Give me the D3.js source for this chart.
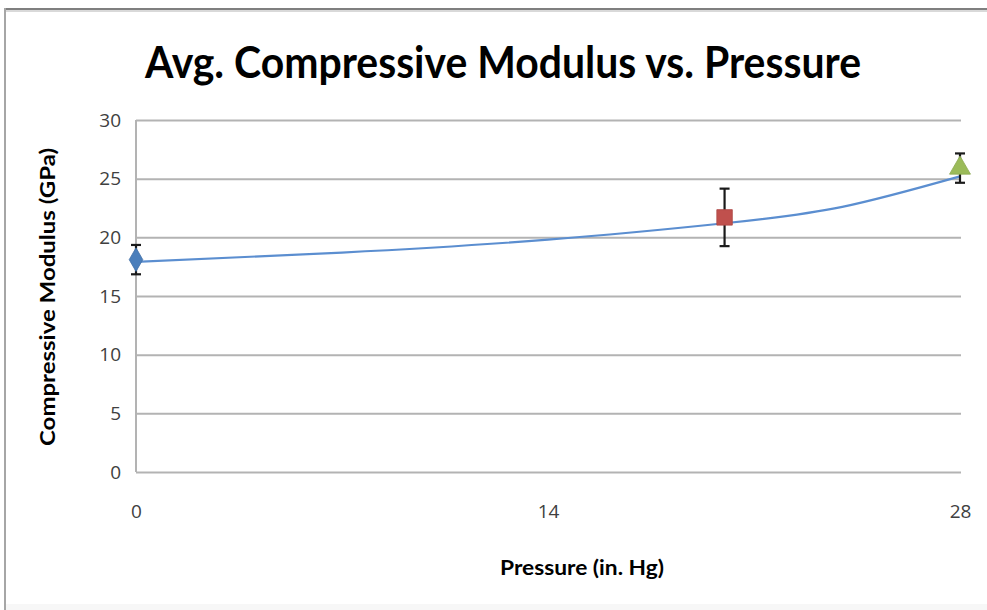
<!DOCTYPE html>
<html>
<head>
<meta charset="utf-8">
<script src="https://cdn.jsdelivr.net/npm/d3@7"></script>
<style>
  html, body { margin: 0; padding: 0; background: #ffffff; }
  svg { display: block; }
</style>
</head>
<body>
<svg id="chart" width="987" height="610"></svg>
<script>
// Measured points: pressure (in. Hg) and average modulus (GPa) with error half-widths
const pressure = [0, 20, 28];
const modulus = [18.1, 21.7, 25.9];
const errHalf = [1.25, 2.45, 1.25];
const markerShapes = ["diamond", "square", "triangle"];
const markerColors = ["#4a7ebb", "#c0504d", "#9bbb59"];

// Smoothed curve through the data (readings along the fitted line)
const trendX = [0, 7, 14, 20, 24, 28];
const trendY = [17.9, 18.7, 19.8, 21.2, 22.6, 25.2];

const xTicks = [0, 14, 28];
const yTicks = [0, 5, 10, 15, 20, 25, 30];

const svg = d3.select("#chart");

// Outer chart frame
svg.append("rect")
  .attr("x", 0).attr("y", 0).attr("width", 987).attr("height", 610)
  .attr("fill", "#ffffff");
svg.append("line").attr("x1", 4).attr("x2", 987).attr("y1", 9).attr("y2", 9)
  .attr("stroke", "#7f7f7f").attr("stroke-width", 2);
svg.append("line").attr("x1", 4).attr("x2", 987).attr("y1", 11).attr("y2", 11)
  .attr("stroke", "#d9d9d9").attr("stroke-width", 2);
svg.append("line").attr("x1", 5).attr("x2", 5).attr("y1", 8).attr("y2", 610)
  .attr("stroke", "#a6a6a6").attr("stroke-width", 2);
svg.append("rect").attr("x", 6).attr("y", 604).attr("width", 981).attr("height", 6)
  .attr("fill", "#f7f7f7");

const x = d3.scaleLinear().domain([0, 28]).range([136, 960]);
const y = d3.scaleLinear().domain([0, 30]).range([472, 120]);

// Horizontal gridlines
svg.append("g")
  .attr("transform", `translate(${x(0)},0)`)
  .call(d3.axisLeft(y).tickValues(yTicks).tickSize(-(x(28) - x(0) + 1)).tickFormat(""))
  .call(g => g.select(".domain").remove())
  .call(g => g.selectAll(".tick line").attr("stroke", "#b3b3b3").attr("stroke-width", 2));

// Vertical axis line
svg.append("line")
  .attr("x1", x(0)).attr("x2", x(0)).attr("y1", y(30)).attr("y2", y(0))
  .attr("stroke", "#b3b3b3").attr("stroke-width", 2);

// Y tick labels
svg.append("g")
  .attr("transform", `translate(${x(0)},0)`)
  .call(d3.axisLeft(y).tickValues(yTicks).tickSize(0).tickPadding(15))
  .call(g => g.select(".domain").remove())
  .call(g => g.selectAll("text")
    .attr("font-family", "'Open Sans', 'DejaVu Sans', sans-serif")
    .attr("font-size", 19).attr("fill", "#404040"));

// X tick labels
svg.append("g")
  .attr("transform", `translate(0,${y(0)})`)
  .call(d3.axisBottom(x).tickValues(xTicks).tickSize(0).tickPadding(33))
  .call(g => g.select(".domain").remove())
  .call(g => g.selectAll("text")
    .attr("font-family", "'Open Sans', 'DejaVu Sans', sans-serif")
    .attr("font-size", 19).attr("fill", "#404040"));

// Title
svg.append("text")
  .attr("x", 503).attr("y", 78)
  .attr("text-anchor", "middle")
  .attr("font-family", "Lato, 'Open Sans', sans-serif")
  .attr("font-weight", "bold")
  .attr("font-size", 44)
  .attr("textLength", 716)
  .attr("lengthAdjust", "spacingAndGlyphs")
  .attr("fill", "#000")
  .text("Avg. Compressive Modulus vs. Pressure");

// Axis titles
svg.append("text")
  .attr("transform", "translate(55,297) rotate(-90)")
  .attr("text-anchor", "middle")
  .attr("font-family", "Lato, 'Open Sans', sans-serif")
  .attr("font-weight", "bold")
  .attr("font-size", 20)
  .attr("textLength", 298)
  .attr("lengthAdjust", "spacingAndGlyphs")
  .attr("fill", "#000")
  .text("Compressive Modulus (GPa)");

svg.append("text")
  .attr("x", 582).attr("y", 575)
  .attr("text-anchor", "middle")
  .attr("font-family", "Lato, 'Open Sans', sans-serif")
  .attr("font-weight", "bold")
  .attr("font-size", 20)
  .attr("textLength", 164)
  .attr("lengthAdjust", "spacingAndGlyphs")
  .attr("fill", "#000")
  .text("Pressure (in. Hg)");

// Fitted curve
const trend = trendX.map((v, i) => [v, trendY[i]]);
svg.append("path")
  .datum(trend)
  .attr("fill", "none")
  .attr("stroke", "#5b8ed0")
  .attr("stroke-width", 2.2)
  .attr("d", d3.line().x(d => x(d[0])).y(d => y(d[1])).curve(d3.curveNatural));

// Error bars
const pts = pressure.map((p, i) => ({ p, m: modulus[i], e: errHalf[i], shape: markerShapes[i], color: markerColors[i] }));
const eb = svg.append("g").attr("stroke", "#1a1a1a").attr("stroke-width", 2.2);
pts.forEach(d => {
  eb.append("line").attr("x1", x(d.p)).attr("x2", x(d.p)).attr("y1", y(d.m + d.e)).attr("y2", y(d.m - d.e));
  eb.append("line").attr("x1", x(d.p) - 5).attr("x2", x(d.p) + 5).attr("y1", y(d.m + d.e)).attr("y2", y(d.m + d.e));
  eb.append("line").attr("x1", x(d.p) - 5).attr("x2", x(d.p) + 5).attr("y1", y(d.m - d.e)).attr("y2", y(d.m - d.e));
});

// Markers
const symbolType = { diamond: d3.symbolDiamond, square: d3.symbolSquare, triangle: d3.symbolTriangle };
const symbolSize = { diamond: 160, square: 240, triangle: 190 };
svg.append("g").selectAll("path")
  .data(pts)
  .join("path")
  .attr("transform", d => `translate(${x(d.p)},${y(d.m)})`)
  .attr("d", d => d3.symbol().type(symbolType[d.shape]).size(symbolSize[d.shape])())
  .attr("fill", d => d.color)
  .attr("stroke", d => d3.color(d.color).darker(0.3))
  .attr("stroke-width", 0.8);
</script>
</body>
</html>
